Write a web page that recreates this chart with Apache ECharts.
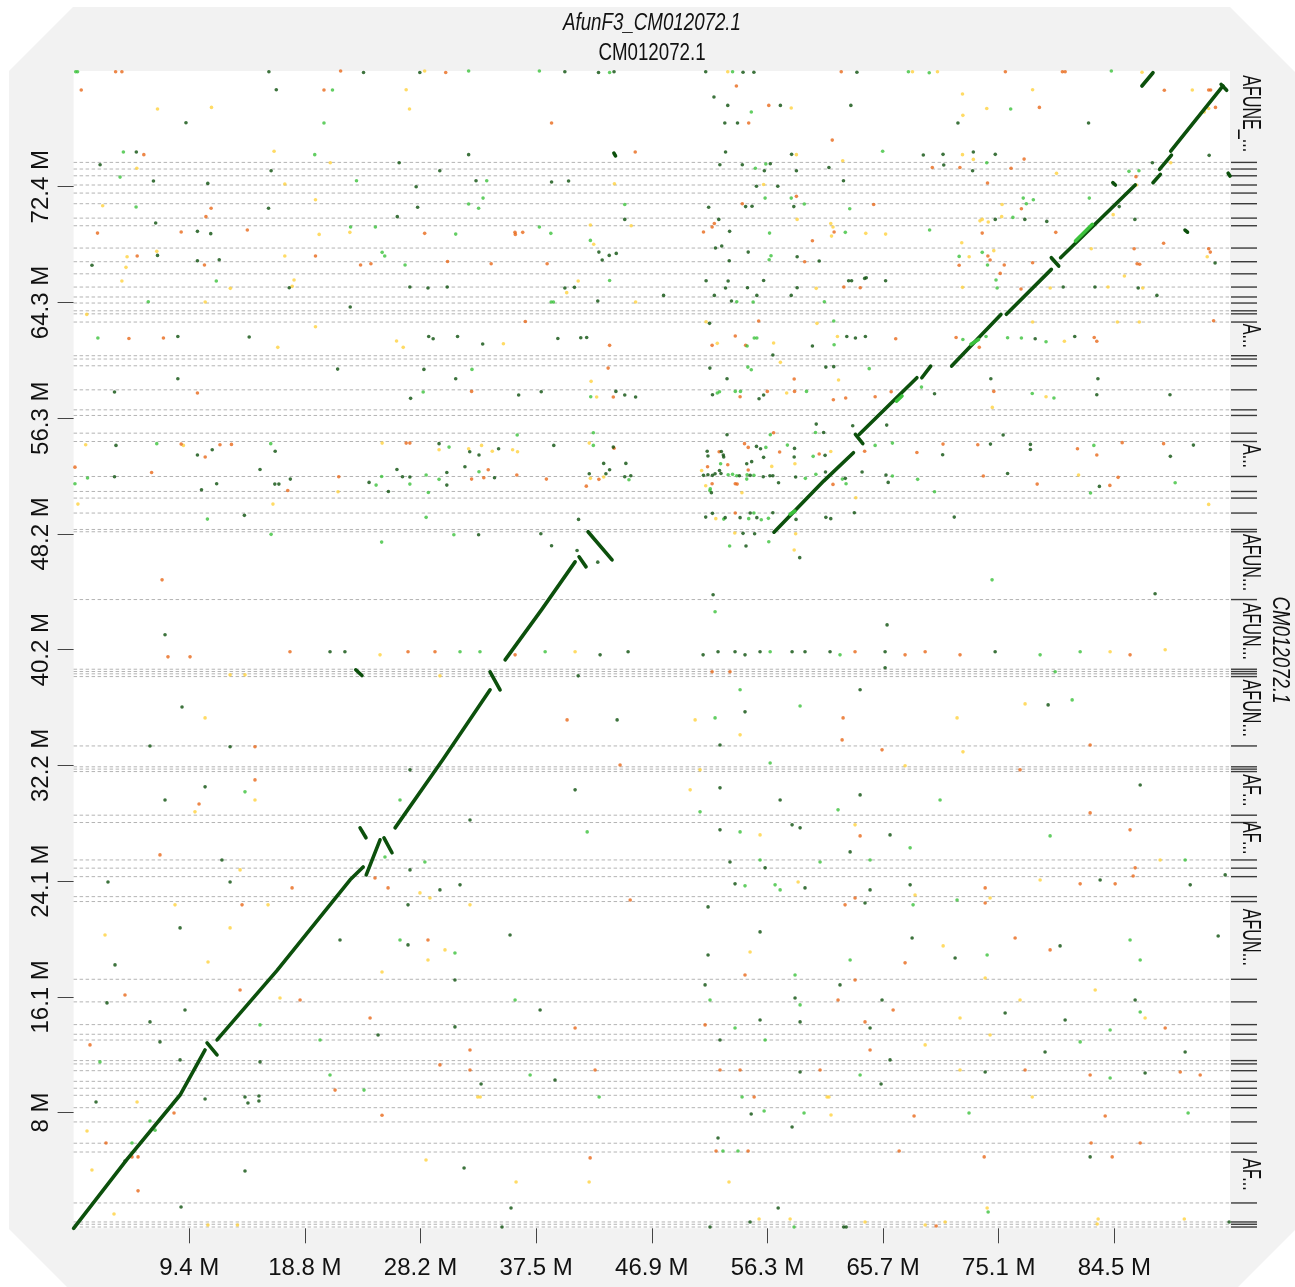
<!DOCTYPE html>
<html>
<head>
<meta charset="utf-8">
<title>AfunF3_CM012072.1 vs CM012072.1</title>
<script src="https://cdn.jsdelivr.net/npm/echarts@6/dist/echarts.min.js"></script>
<style>
  html, body { margin: 0; padding: 0; background: #ffffff; }
  #chart { width: 1295px; height: 1287px; }
</style>
</head>
<body>
<div id="chart"></div>
<script>
// Sequence lengths (Mb): query on x, target on y
const X_LEN = 93.85;
const Y_LEN = 80.4;

const xTickValues = [9.385, 18.77, 28.155, 37.54, 46.925, 56.31, 65.695, 75.08, 84.465];
const xTickLabels = ['9.4 M', '18.8 M', '28.2 M', '37.5 M', '46.9 M', '56.3 M', '65.7 M', '75.1 M', '84.5 M'];
const yTickValues = [8.04, 16.08, 24.12, 32.16, 40.2, 48.24, 56.28, 64.32, 72.36];
const yTickLabels = ['8 M', '16.1 M', '24.1 M', '32.2 M', '40.2 M', '48.2 M', '56.3 M', '64.3 M', '72.4 M'];

// Contig boundaries on the target axis (Mb)
const contigBreaks = [74.05, 73.59, 73.12, 72.48, 71.92, 71.18, 70.18, 69.65, 68.1, 67.15, 66.31, 65.39,
  64.7, 64.28, 63.74, 63.53, 62.96, 60.62, 60.39, 59.92, 58.25, 56.86, 56.47, 55.24, 54.66, 52.23, 51.19,
  50.73, 49.69, 48.55, 48.39, 43.68, 38.84, 38.68, 38.52, 38.33, 33.51, 32.06, 31.9, 31.73, 28.7, 28.19,
  25.59, 25.02, 24.43, 23.04, 22.7, 17.3, 15.73, 14.15, 13.48, 13.08, 11.65, 11.42, 10.95, 10.21, 9.73,
  9.24, 8.38, 7.39, 5.91, 5.3, 1.76, 0.44, 0.28, 0.09];

// Contigs wide enough to carry a (truncated) name: [from, to, name]
const contigLabels = [
  [74.05, 80.4, 'AFUNE_...'], [60.62, 62.96, 'A...'], [52.23, 54.66, 'A...'],
  [43.68, 48.39, 'AFUN...'], [38.84, 43.68, 'AFUN...'], [33.51, 38.33, 'AFUN...'],
  [28.7, 31.73, 'AF...'], [25.59, 28.19, 'AF...'], [17.3, 22.7, 'AFUN...'], [1.76, 5.3, 'AF...']
];

// Long alignments (> 75 % identity), each a path of [x, y] in Mb
const alignments = [
  [[0, 0], [4.3, 4.75], [8.64, 9.26], [10.67, 12.39]],
  [[10.83, 12.88], [11.64, 12.05]],
  [[11.64, 13.09], [16.5, 17.9], [22.44, 24.21], [23.5, 25.1]],
  [[23.75, 24.55], [24.87, 26.99]],
  [[25.19, 27.13], [25.84, 26.09]],
  [[23.25, 27.82], [23.73, 27.13]],
  [[22.9, 38.8], [23.4, 38.4]],
  [[26.09, 27.82], [30.0, 32.6], [33.8, 37.41]],
  [[33.8, 38.66], [34.61, 37.41]],
  [[35.02, 39.49], [38.0, 43.0], [40.7, 46.3]],
  [[41.02, 46.65], [41.59, 45.95]],
  [[41.75, 48.39], [43.7, 46.44]],
  [[56.84, 48.36], [60.87, 51.91], [63.29, 53.88]],
  [[63.45, 55.15], [64.05, 54.52]],
  [[63.75, 55.15], [68.44, 59.09]],
  [[68.84, 59.09], [69.56, 59.9]],
  [[71.26, 59.9], [75.26, 63.49]],
  [[75.7, 63.5], [79.35, 66.62]],
  [[79.35, 67.43], [79.95, 66.85]],
  [[80.1, 67.43], [86.16, 72.48]],
  [[84.34, 72.64], [84.55, 72.48]],
  [[87.6, 72.64], [88.2, 73.22]],
  [[88.13, 73.57], [89.1, 74.56]],
  [[89.04, 74.84], [93.28, 79.36]],
  [[93.13, 79.47], [93.58, 79.06]],
  [[86.7, 79.36], [87.6, 80.28]],
  [[90.2, 69.35], [90.4, 69.2]],
  [[93.7, 73.3], [93.85, 73.1]],
  [[43.85, 74.7], [43.98, 74.5]]
];

// Stretches of the long alignments at 50-75 % identity
const alignmentsMid = [
  [[66.78, 57.47], [67.23, 57.82]],
  [[72.83, 61.41], [73.44, 61.75]],
  [[81.31, 68.59], [82.68, 69.75]],
  [[58.15, 49.6], [58.54, 49.83]]
];

// Short matches, one dot each, by identity class
const darkGreenDots = [
  [15.85,80.35],[23.53,80.3],[28.1,80.3],[39.87,80.35],[42.6,80.3],[43.86,80.35],[16.45,79.1],[9.12,76.81],[5.09,74.77],[32.06,74.59],[2.15,73.89],[16.03,73.47],[26.42,74.03],[29.72,73.47],[6.48,72.76],[10.89,72.59],[27.8,72.36],[32.66,72.78],[38.79,72.69],[40.17,72.76],[15.82,70.86],[27.92,70.93],[6.66,69.84],[26.27,70.28],[44.73,70.09],[10.05,69.26],[11.13,69.1],[42.63,67.82],[42.9,67.27],[43.47,67.59],[44.04,67.73],[6.81,67.59],[1.49,66.9],[10.05,67.22],[11.82,67.29],[17.5,65.34],[27.29,65.39],[28.76,65.32],[30.32,65.39],[39.87,65.32],[40.65,65.37],[22.45,64.0],[42.54,64.42],[8.46,61.96],[14.25,61.92],[28.82,61.96],[29.18,61.8],[31.16,61.96],[33.2,61.43],[39.3,61.82],[41.16,61.87],[41.64,61.89],[21.43,59.69],[28.43,59.67],[8.46,59.02],[31.01,59.02],[3.32,58.1],[27.35,57.66],[36.12,57.89],[37.95,58.12],[44.01,58.14],[44.73,57.89],[45.61,57.75],[3.44,54.39],[16.36,53.98],[10.05,53.72],[11.25,54.09],[29.66,54.51],[32.15,53.95],[32.9,53.72],[34.49,54.16],[38.97,54.39],[43.8,54.27],[15.13,52.72],[26.24,52.72],[31.76,52.91],[30.29,52.51],[43.02,53.14],[43.5,52.7],[44.82,53.14],[43.2,52.42],[41.85,52.42],[3.32,52.21],[11.61,51.73],[16.33,51.7],[16.66,51.7],[17.59,52.05],[23.98,51.82],[26.69,52.21],[27.29,52.19],[30.29,51.63],[34.16,52.14],[44.73,52.21],[45.22,52.28],[10.38,51.31],[25.55,51.19],[13.86,49.53],[40.98,49.25],[32.87,48.18],[37.92,48.25],[38.79,47.42],[40.86,47.09],[42.54,46.28],
  [51.3,80.35],[54.33,80.31],[55.21,80.31],[63.57,80.31],[51.97,78.59],[53.09,78.01],[57.36,78.01],[63.08,78.01],[52.85,76.79],[53.88,76.79],[71.77,76.79],[82.37,76.79],[52.91,74.77],[58.27,74.61],[68.96,74.56],[70.56,74.61],[73.02,74.77],[74.8,74.61],[92.16,74.54],[52.45,73.89],[54.27,73.89],[56.54,73.96],[56.06,73.47],[58.66,73.47],[61.3,73.7],[70.62,73.87],[72.96,73.47],[87.55,74.03],[55.42,72.39],[57.15,72.39],[62.48,72.78],[58.45,70.98],[54.54,70.98],[55.06,71.0],[51.54,70.93],[84.86,70.98],[52.36,70.09],[53.24,69.26],[74.8,70.09],[77.2,70.09],[78.98,69.95],[86.13,70.09],[52.09,68.1],[52.6,68.24],[54.75,67.82],[53.21,67.22],[58.72,67.5],[60.51,67.2],[92.64,67.06],[51.33,65.83],[53.12,65.81],[52.91,65.32],[54.69,65.34],[56.0,65.85],[52.0,64.81],[55.45,64.81],[53.39,64.42],[58.24,64.81],[58.72,65.34],[62.9,65.83],[63.14,65.83],[64.2,65.99],[64.33,66.04],[65.9,65.83],[80.31,65.39],[82.89,65.39],[86.4,65.32],[87.92,64.81],[47.88,64.81],[51.61,62.87],[59.96,61.29],[62.75,61.96],[63.45,61.85],[64.26,61.96],[78.04,61.8],[81.25,61.96],[56.75,60.67],[51.64,59.76],[61.05,59.83],[61.69,59.86],[53.03,59.02],[74.44,59.02],[83.13,59.02],[51.85,57.91],[55.63,57.63],[56.0,57.89],[69.87,57.98],[83.04,57.91],[88.98,57.91],[60.27,55.87],[65.99,55.8],[63.23,55.76],[53.03,55.13],[60.87,55.29],[75.44,55.11],
  [51.42,53.98],[51.48,53.65],[52.57,53.97],[52.73,53.72],[52.76,53.58],[51.12,52.31],[51.48,52.35],[51.85,52.31],[52.06,52.42],[52.42,52.65],[52.54,52.44],[54.03,52.28],[55.42,54.32],[55.75,54.16],[56.0,53.56],[55.03,53.26],[54.63,53.11],[54.91,52.31],[56.51,52.28],[56.75,52.28],[51.76,51.1],[55.97,52.21],[57.21,51.8],[58.51,54.18],[58.48,53.58],[58.6,52.19],[60.99,53.7],[61.02,52.54],[62.63,52.1],[51.3,49.41],[51.85,49.67],[52.88,49.37],[54.09,49.37],[54.91,49.69],[55.45,49.37],[56.75,49.71],[61.05,49.39],[61.45,49.3],[58.63,49.25],[63.36,49.71],[63.99,52.54],[65.93,52.33],[66.11,51.82],[70.53,53.74],[71.47,49.41],[74.41,54.48],[75.8,52.44],[77.65,54.46],[77.65,54.11],[83.25,51.54],[89.01,53.63],[90.88,54.41],[54.33,48.28],[55.27,48.25],[54.57,47.4],[58.93,46.59],
  [87.77,44.08],[51.9,44.01],[7.42,41.23],[66.02,41.92],[20.81,40.05],[22.02,40.05],[42.73,39.84],[45.0,40.05],[51.09,39.84],[52.3,40.05],[53.68,40.05],[54.49,39.84],[55.71,40.05],[58.31,40.05],[59.36,40.05],[61.39,40.05],[65.86,40.05],[74.79,40.05],[40.95,38.38],[65.86,38.94],[63.83,37.41],[8.8,36.22],[54.49,35.88],[79.09,36.36],[44.11,35.32],[6.2,33.51],[12.7,33.45],[52.46,33.58],[27.3,31.85],[10.67,30.67],[7.42,29.76],[40.7,30.46],[52.46,30.6],[57.34,29.76],[63.83,30.11],[86.56,30.8],[32.17,28.37],[58.31,28.03],[52.46,27.68],[58.96,27.82],[66.26,27.33],[12.04,25.59],[27.3,24.9],[53.27,25.45],[56.12,25.04],[63.02,26.15],[93.46,24.55],[2.79,24.06],[12.7,24.06],[29.73,23.51],[31.36,23.86],[53.68,23.93],[59.36,23.65],[64.64,23.51],[64.23,22.6],[67.89,23.86],[83.31,24.2],[90.62,23.86],[27.14,22.47],[51.49,22.33],[8.64,20.87],[21.62,20.03],[35.42,20.38],[55.71,20.59],[68.05,20.17],[80.06,19.62],[92.89,20.31],[3.36,18.3],[27.14,19.69],[51.49,18.99],[71.54,18.78],[30.95,17.25],[62.2,16.91],[2.71,15.66],[9.04,15.17],[37.86,15.17],[51.25,16.91],[58.55,16.0],[65.61,15.86],[75.6,14.96],[86.15,15.86],[6.2,14.34],[30.95,13.99],[55.71,14.47],[58.96,14.34],[64.64,13.92],[80.47,14.47],[7.01,12.95],[24.71,13.43],[52.46,13.08],[78.84,12.25],[90.21,12.25],[8.64,11.7],[15.13,11.56],[58.96,10.86],[66.26,11.7],[73.98,10.86],[86.96,10.79],
  [1.82,8.77],[4.17,4.68],[8.72,1.48],[10.67,8.98],[13.91,9.12],[14.15,8.7],[15.04,9.19],[15.04,8.84],[13.91,3.98],[33.07,10.03],[31.69,4.19],[35.5,1.41],[34.77,0.09],[54.99,7.94],[58.31,7.04],[52.3,6.27],[57.18,1.41],[54.9,0.44],[51.65,0.09],[62.5,0.09],[62.7,0.09],[65.53,10.03],[39.07,10.3],[82.5,4.96],[93.78,0.44]
];

const lightGreenDots = [
  [0.17,80.35],[0.32,80.35],[32.06,80.4],[37.8,80.4],[43.5,80.3],[21.01,79.08],[20.32,76.79],[4.04,74.77],[19.57,74.59],[3.77,73.03],[22.96,72.78],[33.53,72.78],[5.07,70.95],[32.06,71.16],[32.87,70.86],[33.23,71.57],[44.73,71.13],[22.48,69.56],[24.49,69.56],[31.01,69.07],[37.8,69.56],[38.73,69.12],[41.94,68.63],[25.04,67.8],[25.25,67.55],[26.9,66.92],[11.58,65.81],[43.5,65.85],[6.06,64.37],[38.76,64.35],[38.94,64.35],[1.97,61.85],[32.33,59.67],[28.37,58.1],[41.97,57.77],[36.0,55.11],[42.18,55.27],[6.75,54.51],[16.0,54.51],[30.47,54.27],[42.18,54.39],[32.9,52.56],[0.11,51.73],[1.13,52.12],[24.55,51.63],[25.0,52.23],[27.29,51.7],[28.61,52.33],[29.66,52.03],[45.07,52.0],[28.79,51.12],[10.86,49.27],[28.61,49.39],[16.03,48.21],[25.0,47.67],[30.86,48.18],
  [53.48,80.35],[67.75,80.35],[69.44,80.28],[84.22,80.4],[55.0,77.55],[76.05,77.76],[65.66,74.82],[55.33,73.64],[56.18,73.94],[74.11,74.03],[85.65,73.43],[86.46,73.47],[56.12,71.57],[58.24,71.57],[59.3,71.16],[62.99,70.83],[77.07,71.57],[77.89,71.46],[77.32,71.18],[82.43,71.57],[56.48,69.14],[62.63,69.19],[69.47,69.35],[76.23,70.23],[56.6,67.57],[56.45,67.29],[71.87,67.52],[73.74,67.8],[74.17,66.92],[53.82,64.37],[55.15,64.35],[60.93,64.37],[74.86,65.88],[74.95,65.32],[61.69,63.03],[54.66,61.29],[55.24,61.85],[55.45,61.85],[61.72,61.38],[72.17,61.75],[74.05,61.96],[75.8,61.87],[76.92,61.85],[78.92,61.59],[54.72,59.83],[55.0,59.65],[64.57,59.72],[52.24,58.03],[52.42,58.12],[53.7,58.14],[54.12,58.14],[59.48,58.14],[68.81,58.44],[77.8,58.0],[79.56,57.68],[56.54,55.13],[60.21,55.29],
  [52.51,53.11],[53.12,52.35],[53.48,52.38],[53.82,52.28],[54.66,52.35],[56.18,54.25],[55.21,52.31],[51.64,51.26],[51.67,51.38],[54.63,52.05],[57.93,54.41],[59.39,52.1],[60.02,53.63],[60.24,52.38],[62.39,52.05],[62.69,51.73],[52.76,49.27],[54.79,49.3],[55.21,49.69],[55.81,49.22],[56.39,49.32],[65.05,54.39],[66.45,54.55],[66.45,52.26],[68.5,52.03],[69.87,51.17],[82.8,54.39],[82.53,51.08],[89.4,51.8],[53.24,47.4],[56.42,47.7],
  [74.54,45.05],[52.06,42.83],[31.36,40.05],[32.98,40.05],[38.27,40.05],[56.53,40.05],[62.2,39.84],[78.44,39.84],[81.69,40.05],[79.66,38.66],[54.09,37.41],[58.96,36.29],[52.06,35.46],[81.04,36.71],[56.53,32.33],[13.91,30.32],[26.49,29.76],[70.32,29.76],[50.84,28.93],[62.04,29.07],[54.09,27.54],[41.68,27.54],[79.25,27.26],[67.89,26.43],[25.27,25.8],[28.51,25.45],[55.71,25.59],[60.58,25.45],[64.64,25.59],[90.21,25.59],[54.49,23.79],[56.93,23.86],[57.34,23.51],[68.13,22.47],[71.7,22.81],[26.49,20.03],[85.74,20.03],[30.95,19.13],[63.02,18.64],[74.14,18.99],[86.56,18.64],[58.55,17.6],[35.83,15.86],[51.65,15.86],[58.96,15.52],[86.56,15.03],[15.13,14.13],[53.68,13.92],[84.12,13.78],[20.0,13.08],[56.12,13.08],[81.69,12.95],[2.14,11.56],[20.81,10.65],[37.05,10.65],[63.83,10.65],[84.12,10.44],
  [6.2,7.45],[4.74,5.93],[6.61,6.82],[23.57,9.6],[42.65,9.12],[54.25,9.12],[56.04,8.15],[59.28,8.01],[52.7,5.37],[53.92,5.37],[58.47,0.09],[72.67,8.01],[90.45,8.01],[74.22,1.13]
];

const orangeDots = [
  [3.41,80.35],[3.92,80.35],[21.67,80.4],[30.2,80.3],[0.62,79.08],[20.32,79.08],[38.79,76.79],[5.7,74.59],[45.58,74.77],[11.16,70.86],[10.74,70.28],[1.94,69.14],[8.73,69.21],[14.1,69.35],[28.49,69.12],[35.82,69.19],[35.85,69.05],[36.45,69.19],[5.16,67.55],[10.62,66.92],[19.63,67.55],[23.29,66.92],[24.13,67.01],[30.35,67.17],[33.89,67.01],[38.43,67.01],[36.66,63.0],[4.49,61.82],[7.29,61.85],[43.5,61.34],[43.38,59.76],[10.05,58.03],[32.3,58.14],[43.8,57.75],[8.73,54.48],[11.88,54.44],[12.81,54.46],[10.68,53.58],[26.99,54.55],[27.29,54.55],[43.86,54.2],[0.11,52.88],[6.33,52.51],[33.65,52.7],[21.52,52.21],[32.3,52.05],[33.29,52.14],[35.97,52.33],[38.37,52.05],[42.63,52.03],[41.61,51.56],[17.38,51.26],
  [62.3,80.35],[75.62,80.35],[80.25,80.35],[80.47,80.35],[53.79,79.36],[56.42,78.01],[54.79,76.79],[78.38,77.87],[88.52,79.06],[92.12,79.08],[92.28,79.08],[92.67,77.87],[61.57,75.6],[77.14,74.28],[69.69,73.7],[71.93,73.7],[76.08,73.64],[86.22,73.06],[74.17,72.62],[58.66,71.69],[64.93,71.13],[54.27,71.18],[76.92,70.83],[52.0,69.81],[51.82,69.56],[51.12,69.21],[61.72,69.21],[59.96,68.61],[73.74,69.14],[79.71,69.19],[59.33,67.15],[74.2,67.55],[74.38,67.27],[71.87,66.9],[75.53,66.92],[77.83,67.08],[86.07,68.05],[88.46,68.43],[92.12,68.05],[92.25,67.82],[86.31,67.01],[86.52,66.97],[62.51,65.39],[63.84,65.34],[75.2,66.34],[76.89,65.25],[55.6,63.03],[92.52,63.05],[53.7,61.99],[51.82,61.34],[54.54,61.34],[66.72,61.8],[71.62,61.89],[73.5,61.2],[82.83,61.89],[83.04,61.62],[58.48,59.0],[54.09,57.77],[56.3,58.14],[58.51,58.14],[61.66,57.56],[62.66,57.68],[65.05,57.77],[66.35,58.12],[74.68,58.14],[56.81,55.27],
  [52.39,53.95],[51.45,52.91],[53.09,53.05],[54.45,54.51],[54.75,54.25],[54.75,52.68],[51.82,51.73],[53.7,51.73],[53.85,51.7],[57.3,53.93],[60.51,53.79],[61.63,51.68],[53.7,49.69],[64.2,53.98],[68.44,53.9],[70.56,54.48],[73.38,54.44],[73.83,52.26],[78.2,51.7],[81.47,54.16],[83.04,53.72],[84.1,51.61],[84.77,52.17],[85.1,54.58],[88.46,54.51],
  [7.18,45.05],[7.66,39.7],[9.45,39.7],[17.56,40.05],[27.14,40.05],[29.33,40.05],[35.83,39.84],[63.42,40.05],[67.48,39.84],[69.11,40.05],[71.94,39.84],[85.74,39.84],[51.82,38.66],[53.27,38.66],[62.45,35.46],[40.05,35.32],[14.72,33.45],[62.37,33.93],[65.61,33.24],[82.5,33.58],[44.35,32.19],[76.81,31.85],[10.18,29.48],[14.72,31.15],[82.5,28.86],[63.83,27.26],[85.74,27.68],[7.01,25.94],[86.15,25.04],[17.73,23.65],[24.46,24.34],[25.52,23.65],[63.42,22.95],[73.98,23.65],[81.69,23.93],[84.53,23.93],[85.99,24.48],[13.67,22.47],[45.17,22.81],[62.61,22.47],[73.98,22.6],[28.76,20.03],[76.41,20.17],[67.48,18.44],[79.25,19.34],[4.17,16.21],[13.51,16.56],[54.49,17.6],[63.42,17.25],[18.38,15.86],[62.04,15.86],[66.51,15.17],[24.06,14.61],[40.7,13.92],[51.25,14.13],[64.23,14.34],[88.59,13.92],[1.33,12.74],[32.17,12.39],[64.64,12.39],[29.73,11.35],[32.17,11.0],[42.32,11.0],[52.46,11.0],[54.09,11.0],[60.58,11.0],[77.22,11.0],[82.5,10.65],[89.81,10.86],[91.43,10.65],
  [2.63,5.93],[4.74,4.96],[5.23,4.96],[5.23,2.6],[8.15,8.01],[21.22,9.6],[25.03,7.85],[41.92,4.89],[55.23,9.12],[52.14,5.37],[54.74,5.37],[68.21,7.8],[83.72,7.8],[82.58,5.93],[86.56,5.93],[84.29,4.96],[67.0,5.37],[73.9,4.96],[70.0,0.16]
];

const yellowDots = [
  [28.49,80.4],[26.99,79.1],[6.81,77.76],[11.19,77.87],[27.26,77.76],[16.27,74.82],[5.13,73.64],[20.83,74.03],[17.14,72.55],[43.89,72.57],[2.36,71.04],[19.63,71.46],[45.25,69.65],[19.93,69.05],[22.42,69.19],[41.94,69.7],[42.21,68.36],[6.75,67.87],[4.34,67.5],[4.25,66.76],[17.14,67.55],[3.92,65.81],[12.72,65.3],[17.74,65.44],[17.89,65.88],[40.02,65.0],[40.95,65.81],[10.68,64.35],[45.61,64.35],[1.07,63.49],[19.63,62.63],[16.57,61.2],[26.21,61.64],[26.75,61.2],[34.88,61.45],[42.0,58.84],[42.45,57.75],[0.98,54.44],[8.91,54.39],[25.04,54.55],[29.66,54.09],[32.06,54.16],[33.11,54.39],[33.98,53.98],[35.63,54.09],[36.03,53.95],[41.85,54.55],[21.46,51.17],[41.94,52.1],[43.02,52.19],[0.35,50.31],[16.18,50.31],
  [53.09,80.35],[68.08,80.35],[70.11,80.35],[86.71,80.31],[58.24,77.83],[72.14,78.8],[72.17,77.32],[74.11,77.8],[77.83,79.1],[90.79,79.08],[91.76,77.55],[92.12,77.8],[58.66,74.59],[72.14,74.59],[73.02,74.26],[62.42,74.17],[79.77,73.29],[89.04,74.03],[56.0,72.52],[86.25,72.48],[75.35,71.13],[58.72,70.09],[61.45,69.81],[61.63,69.56],[61.51,68.93],[64.29,69.12],[65.9,69.07],[73.56,69.99],[73.74,70.09],[74.23,69.91],[75.32,70.28],[84.37,70.42],[72.08,68.47],[72.68,67.5],[74.68,67.92],[82.59,68.05],[92.0,67.5],[60.27,65.3],[72.14,65.37],[79.26,65.32],[83.95,65.39],[85.28,66.16],[86.77,65.32],[51.33,62.98],[60.33,62.87],[77.83,62.96],[84.71,62.96],[86.49,62.96],[52.24,61.48],[56.81,61.5],[61.99,61.96],[80.41,61.62],[57.36,60.16],[62.08,58.93],[57.87,58.03],[74.56,57.03],[78.92,57.77],
  [50.97,52.65],[56.66,52.93],[51.3,51.59],[54.24,51.1],[58.54,53.11],[61.45,53.97],[52.12,49.3],[63.48,50.75],[81.56,52.33],[92.12,50.29],[53.66,48.3],[58.6,48.25],[58.48,47.12],
  [24.87,39.84],[40.7,40.05],[84.12,40.05],[88.59,40.19],[12.7,38.45],[13.91,38.45],[29.73,38.38],[10.67,35.46],[71.7,35.46],[77.22,36.43],[50.44,35.32],[54.09,34.28],[72.18,33.1],[50.84,31.85],[67.48,32.13],[14.72,29.76],[50.04,30.46],[9.85,28.93],[63.42,28.03],[55.71,27.33],[13.51,24.9],[88.18,25.59],[28.11,23.3],[28.92,22.95],[58.8,24.06],[68.29,23.16],[74.38,22.95],[78.44,24.2],[8.23,22.47],[15.78,22.47],[32.17,22.47],[2.55,20.38],[12.7,20.87],[30.14,19.34],[70.57,19.62],[10.91,18.5],[28.76,18.64],[54.9,19.2],[25.03,17.81],[73.98,17.39],[82.91,16.56],[16.75,16.0],[76.81,15.86],[71.94,14.61],[74.38,13.43],[86.96,14.61],[69.11,12.74],[71.94,11.0],
  [1.09,6.76],[1.49,4.05],[3.28,0.99],[5.15,8.77],[10.9,0.23],[13.3,0.23],[28.6,4.75],[32.8,9.12],[33.0,9.12],[35.91,3.22],[41.84,3.22],[61.15,9.12],[61.3,9.12],[61.47,7.87],[53.19,3.22],[55.63,0.65],[58.15,0.65],[64.23,0.44],[77.8,9.12],[74.14,1.41],[83.15,0.65],[83.07,0.3],[90.14,0.65],[69.11,0.23],[70.73,0.44]
];

const COLORS = { dark: '#0c500c', light: '#3cc23c', orange: '#e8691a', yellow: '#ffd23f' };
const FONT = "'Liberation Sans', Arial, sans-serif";

function tickLabel(values, labels) {
  return function (v) {
    for (let i = 0; i < values.length; i++) {
      if (Math.abs(values[i] - v) < 1e-6) return labels[i];
    }
    return '';
  };
}

function dotSeries(name, data, color) {
  return {
    name: name, type: 'scatter', data: data, symbol: 'circle', symbolSize: 3.6,
    itemStyle: { color: color }, silent: true, z: 3
  };
}

function pathSeries(name, paths, color, z) {
  return {
    name: name, type: 'custom', z: z, silent: true,
    data: paths.map(function (p, i) { return [p[0][0], p[0][1], i]; }),
    encode: { x: 0, y: 1 },
    renderItem: function (params, api) {
      const path = paths[api.value(2)];
      const pts = path.map(function (p) { return api.coord(p); });
      return {
        type: 'polyline',
        shape: { points: pts },
        style: { stroke: color, lineWidth: 3.6, lineCap: 'round', lineJoin: 'round', fill: null }
      };
    }
  };
}

const chart = echarts.init(document.getElementById('chart'), null, { renderer: 'canvas' });

// Condensed look for the free text: squeeze glyphs horizontally
const TITLE_SQUEEZE = 0.78;
const NAME_SQUEEZE = 0.62;

const option = {
  animation: false,
  backgroundColor: '#ffffff',
  grid: { left: 73.6, top: 71, width: 1156.4, height: 1157.3, show: true, backgroundColor: '#ffffff', borderWidth: 0 },
  graphic: [
    {
      type: 'polygon', z: -10, silent: true,
      shape: { points: [[9, 71], [73, 7], [1230, 7], [1295, 72], [1295, 1230], [1238, 1287], [67, 1287], [9, 1229]] },
      style: { fill: '#f2f2f2' }
    },
    {
      type: 'text', x: 652, y: 23, scaleX: TITLE_SQUEEZE, silent: true,
      style: { text: 'AfunF3_CM012072.1', fontSize: 24, fontStyle: 'italic', fontFamily: FONT, fill: '#111', align: 'center', verticalAlign: 'middle' }
    },
    {
      type: 'text', x: 652, y: 53, scaleX: TITLE_SQUEEZE, silent: true,
      style: { text: 'CM012072.1', fontSize: 24, fontFamily: FONT, fill: '#111', align: 'center', verticalAlign: 'middle' }
    },
    {
      type: 'text', x: 1280, y: 650, rotation: -Math.PI / 2, scaleX: TITLE_SQUEEZE, silent: true,
      style: { text: 'CM012072.1', fontSize: 24, fontStyle: 'italic', fontFamily: FONT, fill: '#111', align: 'center', verticalAlign: 'middle' }
    }
  ],
  xAxis: {
    type: 'value', min: 0, max: X_LEN,
    splitLine: { show: false }, axisLine: { show: false },
    axisTick: { show: true, length: 15, customValues: xTickValues, lineStyle: { color: '#444', width: 1 } },
    axisLabel: { customValues: xTickValues, formatter: tickLabel(xTickValues, xTickLabels), margin: 28, fontSize: 24, fontFamily: FONT, color: '#111' }
  },
  yAxis: {
    type: 'value', min: 0, max: Y_LEN,
    splitLine: { show: false }, axisLine: { show: false },
    axisTick: { show: true, length: 16, customValues: yTickValues, lineStyle: { color: '#444', width: 1 } },
    axisLabel: { customValues: yTickValues, formatter: tickLabel(yTickValues, yTickLabels), rotate: 90, margin: 20, fontSize: 24, fontFamily: FONT, color: '#111' }
  },
  series: [
    {
      name: 'contig breaks', type: 'custom', z: 1, silent: true, clip: false,
      data: contigBreaks.map(function (b) { return [0, b]; }),
      encode: { x: 0, y: 1 },
      renderItem: function (params, api) {
        const a = api.coord([0, api.value(1)]);
        const b = api.coord([X_LEN, api.value(1)]);
        return {
          type: 'group',
          children: [
            { type: 'line', shape: { x1: a[0], y1: a[1], x2: b[0], y2: b[1] },
              style: { stroke: '#b4b4b4', lineWidth: 1, lineDash: [3.5, 2.5] } },
            { type: 'line', shape: { x1: b[0] + 1, y1: b[1], x2: b[0] + 27, y2: b[1] },
              style: { stroke: '#3a3a3a', lineWidth: 1.4 } }
          ]
        };
      }
    },
    {
      name: 'contig names', type: 'custom', z: 1, silent: true, clip: false,
      data: contigLabels.map(function (c) { return [X_LEN, (c[0] + c[1]) / 2]; }),
      encode: { x: 0, y: 1 },
      renderItem: function (params, api) {
        const c = contigLabels[params.dataIndex];
        const p = api.coord([X_LEN, (c[0] + c[1]) / 2]);
        return {
          type: 'text', x: p[0] + 20, y: p[1] - 3, rotation: -Math.PI / 2, scaleX: NAME_SQUEEZE,
          style: { text: c[2], fontSize: 26, fontFamily: FONT, fill: '#111', align: 'center', verticalAlign: 'middle' }
        };
      }
    },
    dotSeries('0-25 %', yellowDots, COLORS.yellow),
    dotSeries('25-50 %', orangeDots, COLORS.orange),
    dotSeries('50-75 %', lightGreenDots, COLORS.light),
    dotSeries('75-100 %', darkGreenDots, COLORS.dark),
    pathSeries('long alignments', alignments, COLORS.dark, 5),
    pathSeries('long alignments 50-75 %', alignmentsMid, COLORS.light, 6)
  ]
};

chart.setOption(option);
</script>
</body>
</html>
